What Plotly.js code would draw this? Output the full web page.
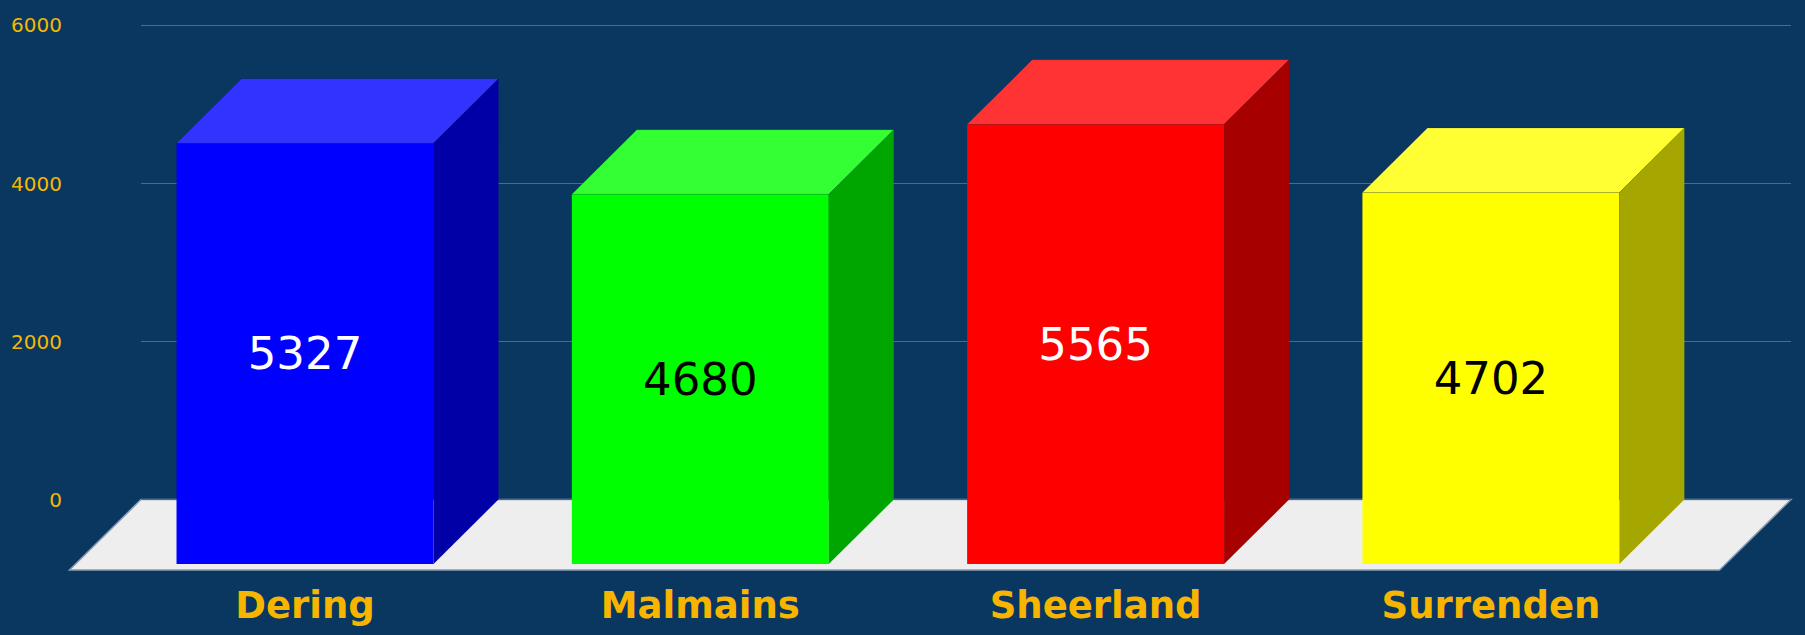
<!DOCTYPE html>
<html>
<head>
<meta charset="utf-8">
<script src="https://cdn.plot.ly/plotly-3.0.1.min.js"></script>
<style>
  html, body { margin: 0; padding: 0; background: #093760; }
  #chart { width: 1805px; height: 635px; }
</style>
</head>
<body>
<div id="chart"></div>
<script>
// Data
const categories = ['Dering', 'Malmains', 'Sheerland', 'Surrenden'];
const values = [5327, 4680, 5565, 4702];
const frontColors = ['#0000ff', '#00ff00', '#ff0000', '#ffff00'];
const topColors = ['#3333ff', '#33ff33', '#ff3333', '#ffff33'];
const sideColors = ['#0000a6', '#00a600', '#a60000', '#a6a600'];
const labelColors = ['#ffffff', '#000000', '#ffffff', '#000000'];
const yTickVals = [0, 2000, 4000, 6000];

// Page geometry in pixels
const W = 1805, H = 635;
const M = { l: 60, r: 10, t: 15, b: 55 };
const PW = W - M.l - M.r, PH = H - M.t - M.b;
const Y_MAX = 6000;
const Y_PAD = 25;   // small value-axis overrun so the end gridlines are kept
// back wall of the pseudo-3D scene (gridlines live here)
const BACK = { left: 141, right: 1791, top: 25.5, bottom: 499.5 };
const DEPTH = { x: 65, y: 64.5 };          // bar depth
const FLOOR_DEPTH = { x: 71.5, y: 70.5 };  // floor depth
const STEP = 395.3;                        // pixels between category centres
const FIRST_BACK_CENTER = 370;
const BAR_W = 0.65;

const unitPx = (BACK.bottom - BACK.top) / Y_MAX;
const frontZero = BACK.bottom + DEPTH.y;
const frontCenter0 = FIRST_BACK_CENTER - DEPTH.x;
const dX = DEPTH.x / STEP;      // depth in category units
const dY = DEPTH.y / unitPx;    // depth in value units

const px2paperX = p => (p - M.l) / PW;
const px2paperY = p => (H - M.b - p) / PH;

// Floor plane
const floorPts = [
  [BACK.left, BACK.bottom],
  [BACK.right, BACK.bottom],
  [BACK.right - FLOOR_DEPTH.x, BACK.bottom + FLOOR_DEPTH.y],
  [BACK.left - FLOOR_DEPTH.x, BACK.bottom + FLOOR_DEPTH.y]
];
const floorPath = 'M ' + floorPts.map(p => px2paperX(p[0]) + ',' + px2paperY(p[1])).join(' L ') + ' Z';

const shapes = [{
  type: 'path', xref: 'paper', yref: 'paper', layer: 'below',
  path: floorPath, fillcolor: '#eeeeee',
  line: { color: '#8a9cb2', width: 1.5 }
}];

// Top and side faces of each box, in front-plane data units
values.forEach((v, i) => {
  const x0 = i - BAR_W / 2, x1 = i + BAR_W / 2;
  shapes.push({
    type: 'path', xref: 'x2', yref: 'y2', layer: 'above',
    path: `M ${x0},${v} L ${x1},${v} L ${x1 + dX},${v + dY} L ${x0 + dX},${v + dY} Z`,
    fillcolor: topColors[i], line: { color: 'rgba(0,0,0,0.12)', width: 1 }
  });
  shapes.push({
    type: 'path', xref: 'x2', yref: 'y2', layer: 'above',
    path: `M ${x1},0 L ${x1},${v} L ${x1 + dX},${v + dY} L ${x1 + dX},${dY} Z`,
    fillcolor: sideColors[i], line: { width: 0 }
  });
});

const traces = [
  // back wall subplot (gridlines and value ticks)
  { x: [], y: [], type: 'scatter', xaxis: 'x', yaxis: 'y', showlegend: false, hoverinfo: 'skip' },
  // front faces
  {
    type: 'bar', x: categories, y: values, xaxis: 'x2', yaxis: 'y2',
    width: BAR_W,
    marker: { color: frontColors, line: { width: 0 } },
    text: values.map(String),
    textposition: 'inside', insidetextanchor: 'middle', textangle: 0,
    constraintext: 'none',
    textfont: { family: 'DejaVu Sans', size: 45, color: labelColors },
    hoverinfo: 'skip', showlegend: false
  }
];

const layout = {
  width: W, height: H,
  margin: M,
  paper_bgcolor: '#093760', plot_bgcolor: 'rgba(0,0,0,0)',
  showlegend: false,
  xaxis: {
    type: 'linear',
    domain: [px2paperX(BACK.left), px2paperX(BACK.right)],
    range: [(BACK.left - FIRST_BACK_CENTER) / STEP, (BACK.right - FIRST_BACK_CENTER) / STEP],
    showticklabels: false, showgrid: false, zeroline: false, showline: false, ticks: '',
    fixedrange: true, anchor: 'y'
  },
  yaxis: {
    domain: [px2paperY(BACK.bottom + Y_PAD * unitPx), px2paperY(BACK.top - Y_PAD * unitPx)],
    range: [-Y_PAD, Y_MAX + Y_PAD],
    tickvals: yTickVals,
    showgrid: true, gridcolor: '#4b6b8e', gridwidth: 1.5,
    zeroline: false, showline: false, ticks: '',
    ticklabelstandoff: 78,
    tickfont: { family: 'DejaVu Sans', size: 20, color: '#f5b800' },
    fixedrange: true, anchor: 'x'
  },
  xaxis2: {
    type: 'category', categoryarray: categories,
    domain: [0, 1],
    range: [(M.l - frontCenter0) / STEP, (W - M.r - frontCenter0) / STEP],
    showgrid: false, zeroline: false, showline: false, ticks: '',
    ticklabelstandoff: 0,
    tickfont: { family: 'DejaVu Sans', size: 37, color: '#f7b500', weight: 'bold' },
    fixedrange: true, anchor: 'y2'
  },
  yaxis2: {
    domain: [0, 1],
    range: [-(H - M.b - frontZero) / unitPx, (frontZero - M.t) / unitPx],
    showgrid: false, zeroline: false, showline: false, showticklabels: false, ticks: '',
    fixedrange: true, anchor: 'x2'
  },
  shapes: shapes
};

Plotly.newPlot('chart', traces, layout, { displayModeBar: false, staticPlot: true });
</script>
</body>
</html>
